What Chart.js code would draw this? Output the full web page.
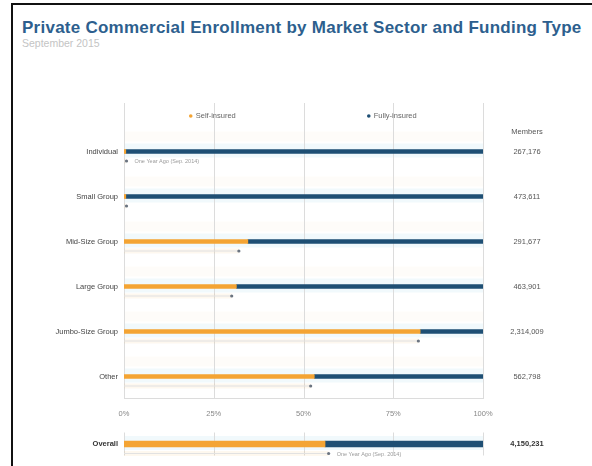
<!DOCTYPE html>
<html>
<head>
<meta charset="utf-8">
<script src="https://cdn.jsdelivr.net/npm/chart.js@4/dist/chart.umd.min.js"></script>
<style>
  html, body { margin: 0; padding: 0; background: #fff; }
  body { width: 592px; height: 466px; position: relative; overflow: hidden; font-family: "Liberation Sans", Arial, sans-serif; }
  .frame { position: absolute; left: 11px; top: 3px; right: 0; bottom: 0; border-left: 2px solid #111; border-top: 2px solid #111; }
  .title { position: absolute; left: 22px; top: 18px; font-size: 17px; font-weight: bold; color: #2d5f8e; white-space: nowrap; letter-spacing: 0.25px; }
  .subtitle { position: absolute; left: 22px; top: 37px; font-size: 10.5px; color: #c4c4c4; }
  #main { position: absolute; left: 0; top: 0; }
  #overall { position: absolute; left: 0; top: 422px; }
</style>
</head>
<body>
<div class="frame"></div>
<div class="title">Private Commercial Enrollment by Market Sector and Funding Type</div>
<div class="subtitle">September 2015</div>
<canvas id="main" width="592" height="422"></canvas>
<canvas id="overall" width="592" height="44"></canvas>
<script>
// ===== DATA =====
const categories = ['Individual', 'Small Group', 'Mid-Size Group', 'Large Group', 'Jumbo-Size Group', 'Other'];
const selfInsured = [0.5, 0.5, 34.5, 31.3, 82.5, 53];
const fullyInsured = [99.5, 99.5, 65.5, 68.7, 17.5, 47];
const yearAgo = [0.7, 0.7, 32, 30, 82, 52];
const members = ['267,176', '473,611', '291,677', '463,901', '2,314,009', '562,798'];

const overallLabel = ['Overall'];
const overallSelf = [56];
const overallFully = [44];
const overallYearAgo = [57];
const overallMembers = ['4,150,231'];

const xTicks = [0, 25, 50, 75, 100];

const ORANGE = '#f4a433';
const BLUE = '#1e4f74';
const GRID = '#dcdcdc';
const FONT = '"Liberation Sans", Arial, sans-serif';

// ===== HELPERS =====
function drawYearAgo(ctx, chart, values, offset, note) {
  const x = chart.scales.x, y = chart.scales.y;
  values.forEach((v, i) => {
    const py = y.getPixelForValue(i) + offset;
    const x0 = x.getPixelForValue(0), x1 = x.getPixelForValue(v);
    ctx.fillStyle = 'rgba(244,164,51,0.08)';
    ctx.fillRect(x0, py - 3, x1 - x0, 5);
    ctx.fillStyle = '#e2e2e2';
    ctx.fillRect(x0, py - 1, x1 - x0, 1);
    ctx.fillStyle = '#6b7480';
    ctx.beginPath();
    ctx.arc(x1, py - 0.5, 1.6, 0, Math.PI * 2);
    ctx.fill();
    if (note && note.index === i) {
      ctx.font = '5.5px ' + FONT;
      ctx.fillStyle = '#9a9a9a';
      ctx.textAlign = 'left';
      ctx.textBaseline = 'middle';
      ctx.fillText('One Year Ago (Sep. 2014)', x1 + 8, py);
    }
  });
}

function drawGrid(ctx, chart, top) {
  const x = chart.scales.x, area = chart.chartArea;
  ctx.save();
  ctx.strokeStyle = GRID;
  ctx.lineWidth = 1;
  xTicks.forEach(t => {
    const px = Math.round(x.getPixelForValue(t)) + 0.5;
    ctx.beginPath();
    ctx.moveTo(px, top);
    ctx.lineTo(px, area.bottom);
    ctx.stroke();
  });
  ctx.restore();
}

// ===== MAIN CHART =====
const mainDecor = {
  id: 'mainDecor',
  beforeDatasetsDraw(chart) {
    const ctx = chart.ctx, area = chart.chartArea, y = chart.scales.y;
    // faint row bands
    categories.forEach((c, i) => {
      const py = y.getPixelForValue(i);
      ctx.fillStyle = 'rgba(228,243,250,0.5)';
      ctx.fillRect(area.left, py - 8, area.right - area.left, 14);
      ctx.fillStyle = 'rgba(253,246,234,0.3)';
      ctx.fillRect(area.left, py - 20, area.right - area.left, 10);
    });
    drawGrid(ctx, chart, 103);
    ctx.strokeStyle = GRID;
    ctx.beginPath();
    ctx.moveTo(area.left, Math.round(area.bottom) - 0.5);
    ctx.lineTo(area.right, Math.round(area.bottom) - 0.5);
    ctx.stroke();
    drawYearAgo(ctx, chart, yearAgo, 10, { index: 0 });
  },
  afterDatasetsDraw(chart) {
    const ctx = chart.ctx, x = chart.scales.x, y = chart.scales.y;
    // legend, centred in each half
    ctx.font = '7.5px ' + FONT;
    ctx.textBaseline = 'middle';
    [['Self-insured', ORANGE, 25], ['Fully-insured', BLUE, 75]].forEach(([label, col, at]) => {
      const w = ctx.measureText(label).width + 6;
      const cx = x.getPixelForValue(at) - w / 2;
      ctx.fillStyle = col;
      ctx.beginPath();
      ctx.arc(cx, 116, 1.8, 0, Math.PI * 2);
      ctx.fill();
      ctx.fillStyle = '#666';
      ctx.textAlign = 'left';
      ctx.fillText(label, cx + 5, 116);
    });
    // members column
    ctx.textAlign = 'center';
    ctx.fillStyle = '#555';
    ctx.fillText('Members', 527, 132);
    members.forEach((m, i) => ctx.fillText(m, 527, y.getPixelForValue(i)));
  }
};

new Chart(document.getElementById('main'), {
  type: 'bar',
  data: {
    labels: categories,
    datasets: [
      { label: 'Self-insured', data: selfInsured, backgroundColor: ORANGE, barThickness: 4 },
      { label: 'Fully-insured', data: fullyInsured, backgroundColor: BLUE, barThickness: 4 }
    ]
  },
  options: {
    indexAxis: 'y',
    responsive: false,
    animation: false,
    layout: { padding: { top: 129, right: 109, left: 0, bottom: 0 } },
    plugins: { legend: { display: false }, tooltip: { enabled: false } },
    scales: {
      x: {
        stacked: true, min: 0, max: 100,
        afterFit: s => { s.height = 23; },
        afterBuildTicks: s => { s.ticks = xTicks.map(v => ({ value: v })); },
        grid: { display: false, drawTicks: false }, border: { display: false },
        ticks: { padding: 10, color: '#888', font: { size: 7.5, family: FONT }, maxRotation: 0, callback: v => v + '%' }
      },
      y: {
        stacked: true,
        afterFit: s => { s.width = 124; },
        grid: { display: false, drawTicks: false }, border: { display: false },
        ticks: { padding: 6, color: '#444', font: { size: 7.5, family: FONT } }
      }
    }
  },
  plugins: [mainDecor]
});

// ===== OVERALL CHART =====
const overallDecor = {
  id: 'overallDecor',
  beforeDatasetsDraw(chart) {
    const ctx = chart.ctx, area = chart.chartArea, y = chart.scales.y;
    const py = y.getPixelForValue(0);
    ctx.fillStyle = 'rgba(228,243,250,0.5)';
    ctx.fillRect(area.left, py - 8, area.right - area.left, 14);
    drawGrid(ctx, chart, area.top);
    drawYearAgo(ctx, chart, overallYearAgo, 10, { index: 0 });
  },
  afterDatasetsDraw(chart) {
    const ctx = chart.ctx, y = chart.scales.y;
    ctx.font = 'bold 7.5px ' + FONT;
    ctx.fillStyle = '#333';
    ctx.textAlign = 'center';
    ctx.textBaseline = 'middle';
    overallMembers.forEach((m, i) => ctx.fillText(m, 527, y.getPixelForValue(i)));
  }
};

new Chart(document.getElementById('overall'), {
  type: 'bar',
  data: {
    labels: overallLabel,
    datasets: [
      { label: 'Self-insured', data: overallSelf, backgroundColor: ORANGE, barThickness: 6 },
      { label: 'Fully-insured', data: overallFully, backgroundColor: BLUE, barThickness: 6 }
    ]
  },
  options: {
    indexAxis: 'y',
    responsive: false,
    animation: false,
    layout: { padding: { top: 4, right: 109, left: 0, bottom: 0 } },
    plugins: { legend: { display: false }, tooltip: { enabled: false } },
    scales: {
      x: {
        stacked: true, min: 0, max: 100,
        afterFit: s => { s.height = 2; },
        grid: { display: false }, border: { display: false },
        ticks: { display: false }
      },
      y: {
        stacked: true,
        afterFit: s => { s.width = 124; },
        grid: { display: false, drawTicks: false }, border: { display: false },
        ticks: { padding: 6, color: '#333', font: { size: 7.5, weight: 'bold', family: FONT } }
      }
    }
  },
  plugins: [overallDecor]
});
</script>
</body>
</html>
